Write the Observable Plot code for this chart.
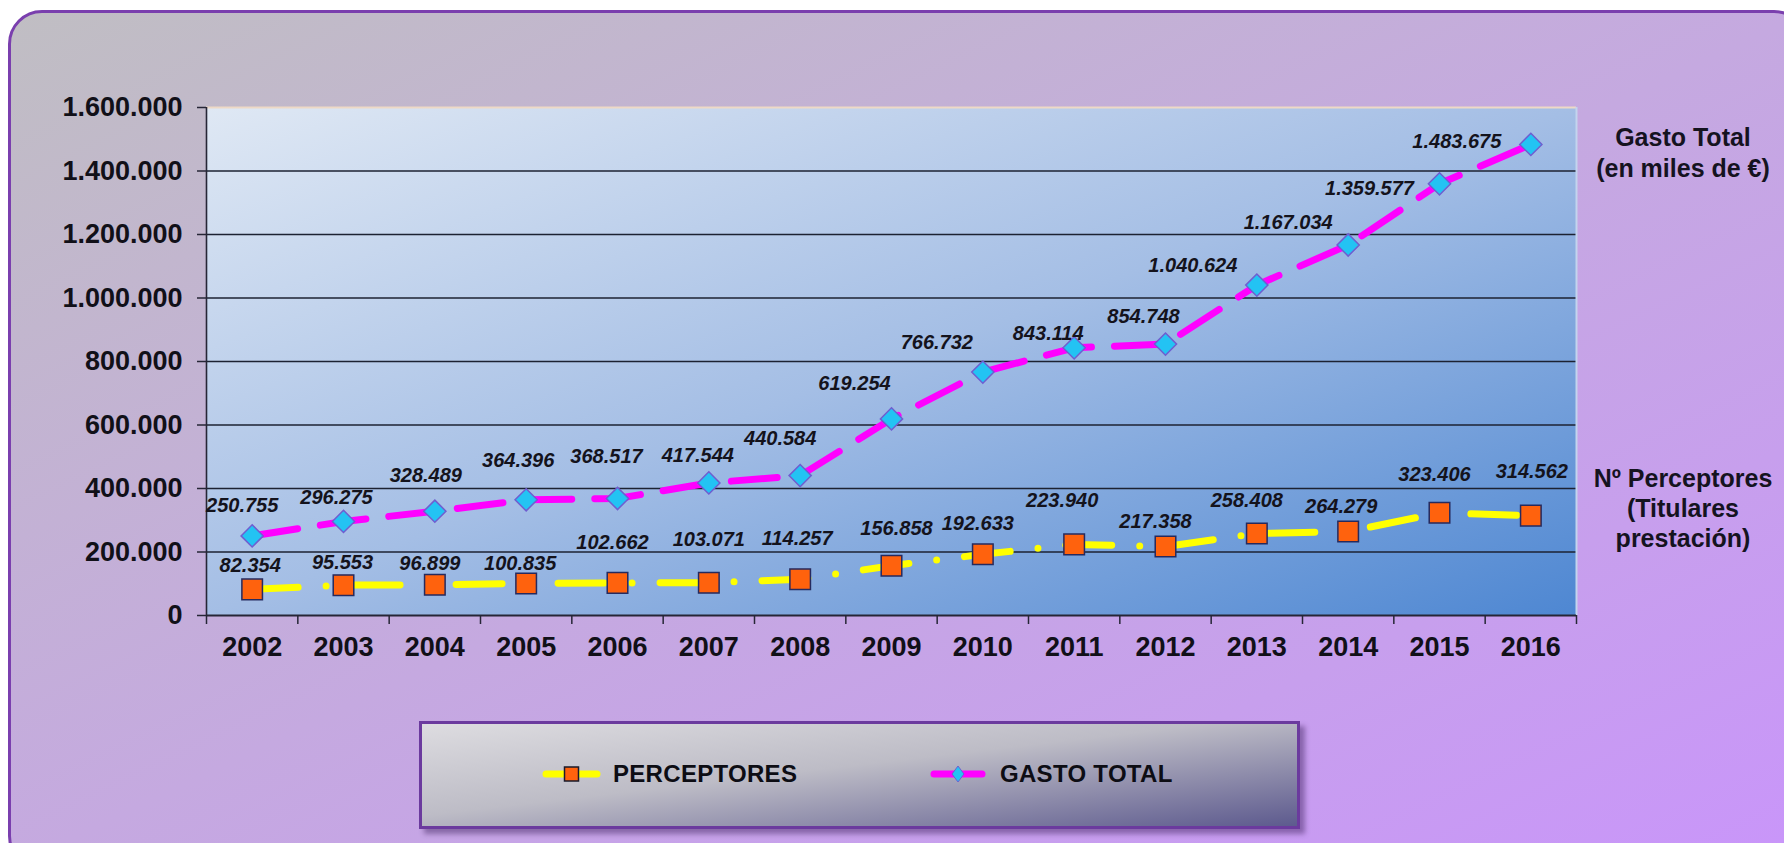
<!DOCTYPE html>
<html>
<head>
<meta charset="utf-8">
<script src="https://cdn.jsdelivr.net/npm/d3@7"></script>
<script src="https://cdn.jsdelivr.net/npm/@observablehq/plot@0.6"></script>
<style>
  html, body { margin:0; padding:0; width:1784px; height:843px; overflow:hidden; background:#ffffff;
    font-family:"Liberation Sans", Arial, Helvetica, sans-serif; }
  #frame { position:absolute; left:8px; top:10px; width:1800px; height:860px; box-sizing:border-box;
    border:3px solid #7a3fae; border-radius:34px;
    background:linear-gradient(to bottom right, #c0bec3 0%, #c5a9e0 50%, #c995fa 100%); }
  #chart { position:absolute; left:0; top:0; }
  .side { position:absolute; width:280px; text-align:center; font-weight:bold; font-size:25px; color:#15131f; }
  #legend { position:absolute; left:419px; top:721px; width:881px; height:108px; box-sizing:border-box;
    border:3px solid #6b3a9e;
    background:linear-gradient(to bottom right, #dddce0 0%, #bdbcc6 45%, #5d5a8e 100%);
    box-shadow:5px 5px 5px rgba(60,30,90,0.45); }
  .legtext { position:absolute; font-weight:bold; font-size:24px; color:#0d0d14; letter-spacing:0.3px; }
  .legsw { position:absolute; }
</style>
</head>
<body>
<div id="frame"></div>
<div id="chart"></div>
<div id="side1" class="side"></div>
<div id="side2" class="side"></div>
<div id="legend"></div>
<script>
// ---------------- data ----------------
const years = [2002, 2003, 2004, 2005, 2006, 2007, 2008, 2009, 2010, 2011, 2012, 2013, 2014, 2015, 2016];
const perceptores = [82354, 95553, 96899, 100835, 102662, 103071, 114257, 156858, 192633, 223940, 217358, 258408, 264279, 323406, 314562];
const gastoTotal = [250755, 296275, 328489, 364396, 368517, 417544, 440584, 619254, 766732, 843114, 854748, 1040624, 1167034, 1359577, 1483675];
const yTicks = [0, 200000, 400000, 600000, 800000, 1000000, 1200000, 1400000, 1600000];
const seriesNames = ["PERCEPTORES", "GASTO TOTAL"];
const gastoSideLabel = ["Gasto Total", "(en miles de €)"];
const perceptoresSideLabel = ["Nº Perceptores", "(Titulares", "prestación)"];

// ---------------- layout / style (label nudges in pixels) ----------------
const gastoNudge = [[-10,-30],[-7,-24],[-9,-36],[-8,-39],[-11,-42],[-11,-27],[-20,-37],[-37,-35],[-46,-29],[-26,-14],[-22,-28],[-64,-20],[-60,-22],[-70,5],[-74,-3]];
const percNudge = [[-2,-24],[-1,-23],[-5,-21],[-6,-20],[-5,-40],[0,-43],[-3,-41],[5,-37],[-5,-31],[-12,-44],[-10,-25],[-10,-33],[-7,-25],[-5,-38],[1,-44]];

const es = d3.formatLocale({decimal: ",", thousands: ".", grouping: [3], currency: ["", "€"]});
const fmt = es.format(",");

const rowsP = years.map((year, i) => ({year, value: perceptores[i]}));
const rowsG = years.map((year, i) => ({year, value: gastoTotal[i]}));
const boundaries = [years[0] - 0.5, ...years.map(y => y + 0.5)];
const xDomain = [boundaries[0], boundaries[boundaries.length - 1]];

const labelStyle = {fontSize: 20, fontWeight: "bold", fontStyle: "italic", fill: "#14131c"};

const plot = Plot.plot({
  width: 1784,
  height: 700,
  marginLeft: 206,
  marginRight: 208,
  marginTop: 107,
  marginBottom: 85,
  style: "background: transparent; overflow: visible; color: #111018; font-family: 'Liberation Sans', Arial, sans-serif;",
  x: {type: "linear", domain: xDomain},
  y: {domain: [yTicks[0], yTicks[yTicks.length - 1]]},
  marks: [
    Plot.frame({fill: "url(#plotBg)", stroke: null}),
    Plot.ruleY(yTicks.filter(v => v > yTicks[0] && v < yTicks[yTicks.length - 1]), {stroke: "#1c2232", strokeWidth: 1.6}),
    Plot.ruleY([yTicks[yTicks.length - 1]], {stroke: "#eed9c6", strokeWidth: 2}),
    Plot.ruleX([xDomain[1]], {stroke: "#c3d4ee", strokeWidth: 2}),
    Plot.ruleX([xDomain[0]], {stroke: "#262636", strokeWidth: 1.6}),
    Plot.ruleY([0], {stroke: "#262636", strokeWidth: 2}),
    Plot.axisY({ticks: yTicks, tickFormat: fmt, tickSize: 9, tickPadding: 15, fontSize: 27, fontWeight: "bold", label: null, stroke: "#262636", strokeWidth: 1.5}),
    Plot.axisX({ticks: boundaries, tickSize: 9, tickFormat: () => "", label: null, stroke: "#262636", strokeWidth: 1.5}),
    Plot.axisX({ticks: years, tickSize: 0, tickPadding: 21, tickFormat: d => String(d), fontSize: 27, fontWeight: "bold", label: null}),
    Plot.line(rowsP, {x: "year", y: "value", stroke: "#ffff00", strokeWidth: 7, strokeLinecap: "round", strokeDasharray: "46,28,0,28"}),
    Plot.line(rowsG, {x: "year", y: "value", stroke: "#ff00ff", strokeWidth: 7, strokeLinecap: "round", strokeDasharray: "46,23"}),
    Plot.dot(rowsP, {x: "year", y: "value", symbol: "square", r: 11.6, fill: "#ff620d", stroke: "#262a5e", strokeWidth: 1.5}),
    Plot.dot(rowsG, {x: "year", y: "value", symbol: "diamond2", r: 10, fill: "#23c3f3", stroke: "#6f5ed0", strokeWidth: 1.5}),
    rowsG.map((d, i) => Plot.text([d], {x: "year", y: "value", text: r => fmt(r.value), dx: gastoNudge[i][0], dy: gastoNudge[i][1], ...labelStyle})),
    rowsP.map((d, i) => Plot.text([d], {x: "year", y: "value", text: r => fmt(r.value), dx: percNudge[i][0], dy: percNudge[i][1], ...labelStyle}))
  ]
});

// gradient for plot area
const NS = "http://www.w3.org/2000/svg";
const defs = document.createElementNS(NS, "defs");
const grad = document.createElementNS(NS, "linearGradient");
grad.setAttribute("id", "plotBg");
grad.setAttribute("x1", "0"); grad.setAttribute("y1", "0");
grad.setAttribute("x2", "1"); grad.setAttribute("y2", "1");
[["0", "#dfe8f4"], ["0.5", "#a4bee5"], ["1", "#4e87d2"]].forEach(([o, c]) => {
  const s = document.createElementNS(NS, "stop");
  s.setAttribute("offset", o); s.setAttribute("stop-color", c);
  grad.appendChild(s);
});
defs.appendChild(grad);
plot.insertBefore(defs, plot.firstChild);
document.getElementById("chart").appendChild(plot);

// side labels
function sideBlock(el, lines, centerX, firstCenterY, lineH) {
  el.style.left = (centerX - 140) + "px";
  el.style.top = (firstCenterY - lineH / 2) + "px";
  el.style.lineHeight = lineH + "px";
  el.innerHTML = lines.map(t => `<div>${t}</div>`).join("");
}
sideBlock(document.getElementById("side1"), gastoSideLabel, 1683, 137, 31);
sideBlock(document.getElementById("side2"), perceptoresSideLabel, 1683, 478, 30);

// legend
const legend = document.getElementById("legend");
const L = 419 + 3, T = 721 + 3; // inner origin
function swatch(x0, x1, cy, lineColor, symbol) {
  const w = x1 - x0 + 10, h = 24;
  const svg = document.createElementNS(NS, "svg");
  svg.setAttribute("width", w); svg.setAttribute("height", h);
  svg.setAttribute("class", "legsw");
  svg.style.left = (x0 - 5 - L) + "px";
  svg.style.top = (cy - h / 2 - T) + "px";
  const ln = document.createElementNS(NS, "line");
  ln.setAttribute("x1", 5 + 3); ln.setAttribute("x2", w - 5 - 3);
  ln.setAttribute("y1", h / 2); ln.setAttribute("y2", h / 2);
  ln.setAttribute("stroke", lineColor); ln.setAttribute("stroke-width", 7);
  ln.setAttribute("stroke-linecap", "round");
  svg.appendChild(ln);
  const cx = w / 2;
  let shape;
  if (symbol === "square") {
    shape = document.createElementNS(NS, "rect");
    shape.setAttribute("x", cx - 7); shape.setAttribute("y", h / 2 - 7);
    shape.setAttribute("width", 14); shape.setAttribute("height", 14);
    shape.setAttribute("fill", "#ff620d"); shape.setAttribute("stroke", "#1a1a2a"); shape.setAttribute("stroke-width", 1.5);
  } else {
    shape = document.createElementNS(NS, "path");
    shape.setAttribute("d", `M${cx},${h/2-8}L${cx+6},${h/2}L${cx},${h/2+8}L${cx-6},${h/2}Z`);
    shape.setAttribute("fill", "#23c3f3"); shape.setAttribute("stroke", "#6f5ed0"); shape.setAttribute("stroke-width", 1);
  }
  svg.appendChild(shape);
  legend.appendChild(svg);
}
function legText(txt, x, cy) {
  const d = document.createElement("div");
  d.className = "legtext";
  d.textContent = txt;
  d.style.left = (x - L) + "px";
  d.style.top = (cy - 14 - T) + "px";
  d.style.lineHeight = "28px";
  legend.appendChild(d);
}
swatch(543, 600, 774, "#ffff00", "square");
legText(seriesNames[0], 613, 774);
swatch(931, 985, 774, "#ff00ff", "diamond");
legText(seriesNames[1], 1000, 774);
</script>
</body>
</html>
